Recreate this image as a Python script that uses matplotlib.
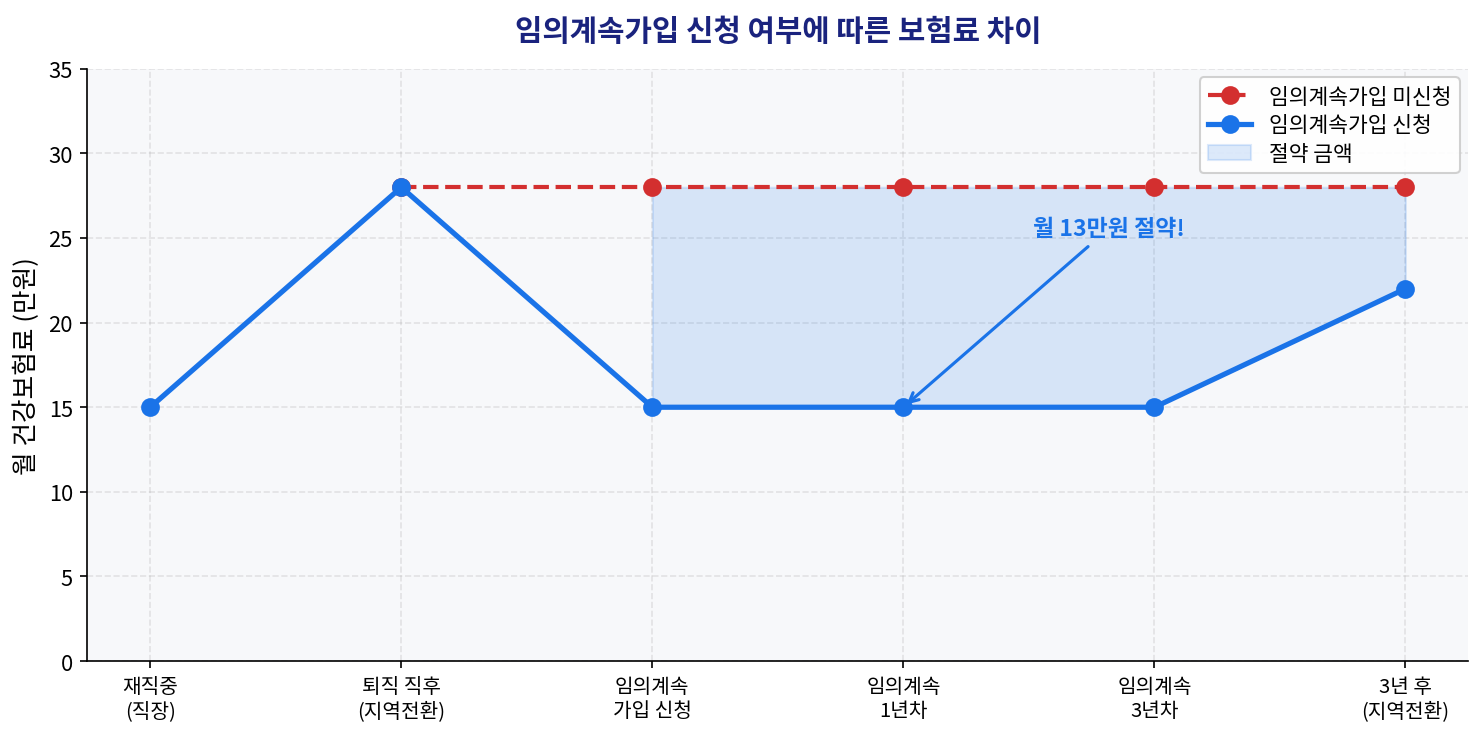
import numpy as np
import matplotlib
matplotlib.use('Agg')
import matplotlib.pyplot as plt

plt.rcParams['font.family'] = ['Noto Sans CJK KR', 'DejaVu Sans']

# data
stages = ['재직중\n(직장)', '퇴직 직후\n(지역전환)', '임의계속\n가입 신청',
          '임의계속\n1년차', '임의계속\n3년차', '3년 후\n(지역전환)']
applied = [15, 28, 15, 15, 15, 22]
not_applied_x = [1, 2, 3, 4, 5]
not_applied = [28, 28, 28, 28, 28]
fill_x = [2, 3, 4, 5]

red = '#d32f2f'
blue = '#1a73e8'

fig, ax = plt.subplots(figsize=(9.887, 4.893), dpi=150)
fig.subplots_adjust(left=0.059, right=0.99, top=0.905, bottom=0.098)

x = np.arange(len(stages))
ax.set_facecolor('#f7f8fa')

fx = np.array(fill_x)
fill = ax.fill_between(fx, [applied[i] for i in fill_x], [not_applied[i - 1] for i in fill_x],
                       color=blue, alpha=0.15, label='절약 금액', zorder=1)
l1, = ax.plot(not_applied_x, not_applied, color=red, linestyle='--', linewidth=2,
              marker='o', markersize=8, label='임의계속가입 미신청', zorder=3)
l2, = ax.plot(x, applied, color=blue, linewidth=2.5, marker='o', markersize=8,
              label='임의계속가입 신청', zorder=4)

ax.annotate('월 13만원 절약!', xy=(3, 15), xytext=(3.82, 24.9),
            ha='center', va='bottom', fontsize=11, fontweight='bold', color=blue,
            arrowprops=dict(arrowstyle='->', color=blue, lw=1.5))

ax.set_xticks(x)
ax.set_xticklabels(stages, fontsize=9.7)
ax.set_xlim(-0.25, 5.25)
ax.set_ylim(0, 35)
ax.set_yticks(range(0, 36, 5))
ax.tick_params(axis='y', labelsize=10.5)
ax.set_ylabel('월 건강보험료 (만원)', fontsize=12.3)
ax.set_title('임의계속가입 신청 여부에 따른 보험료 차이', fontsize=14.3,
             fontweight='bold', color='#1a237e', pad=14)
ax.grid(True, linestyle='--', alpha=0.3, linewidth=0.8)
ax.set_axisbelow(True)
ax.spines['top'].set_visible(False)
ax.spines['right'].set_visible(False)
ax.legend(handles=[l1, l2, fill], loc='upper right', fontsize=10.3, framealpha=0.9,
          labelspacing=0.3, borderaxespad=0.4)

fig.savefig('out.png', dpi=150)
